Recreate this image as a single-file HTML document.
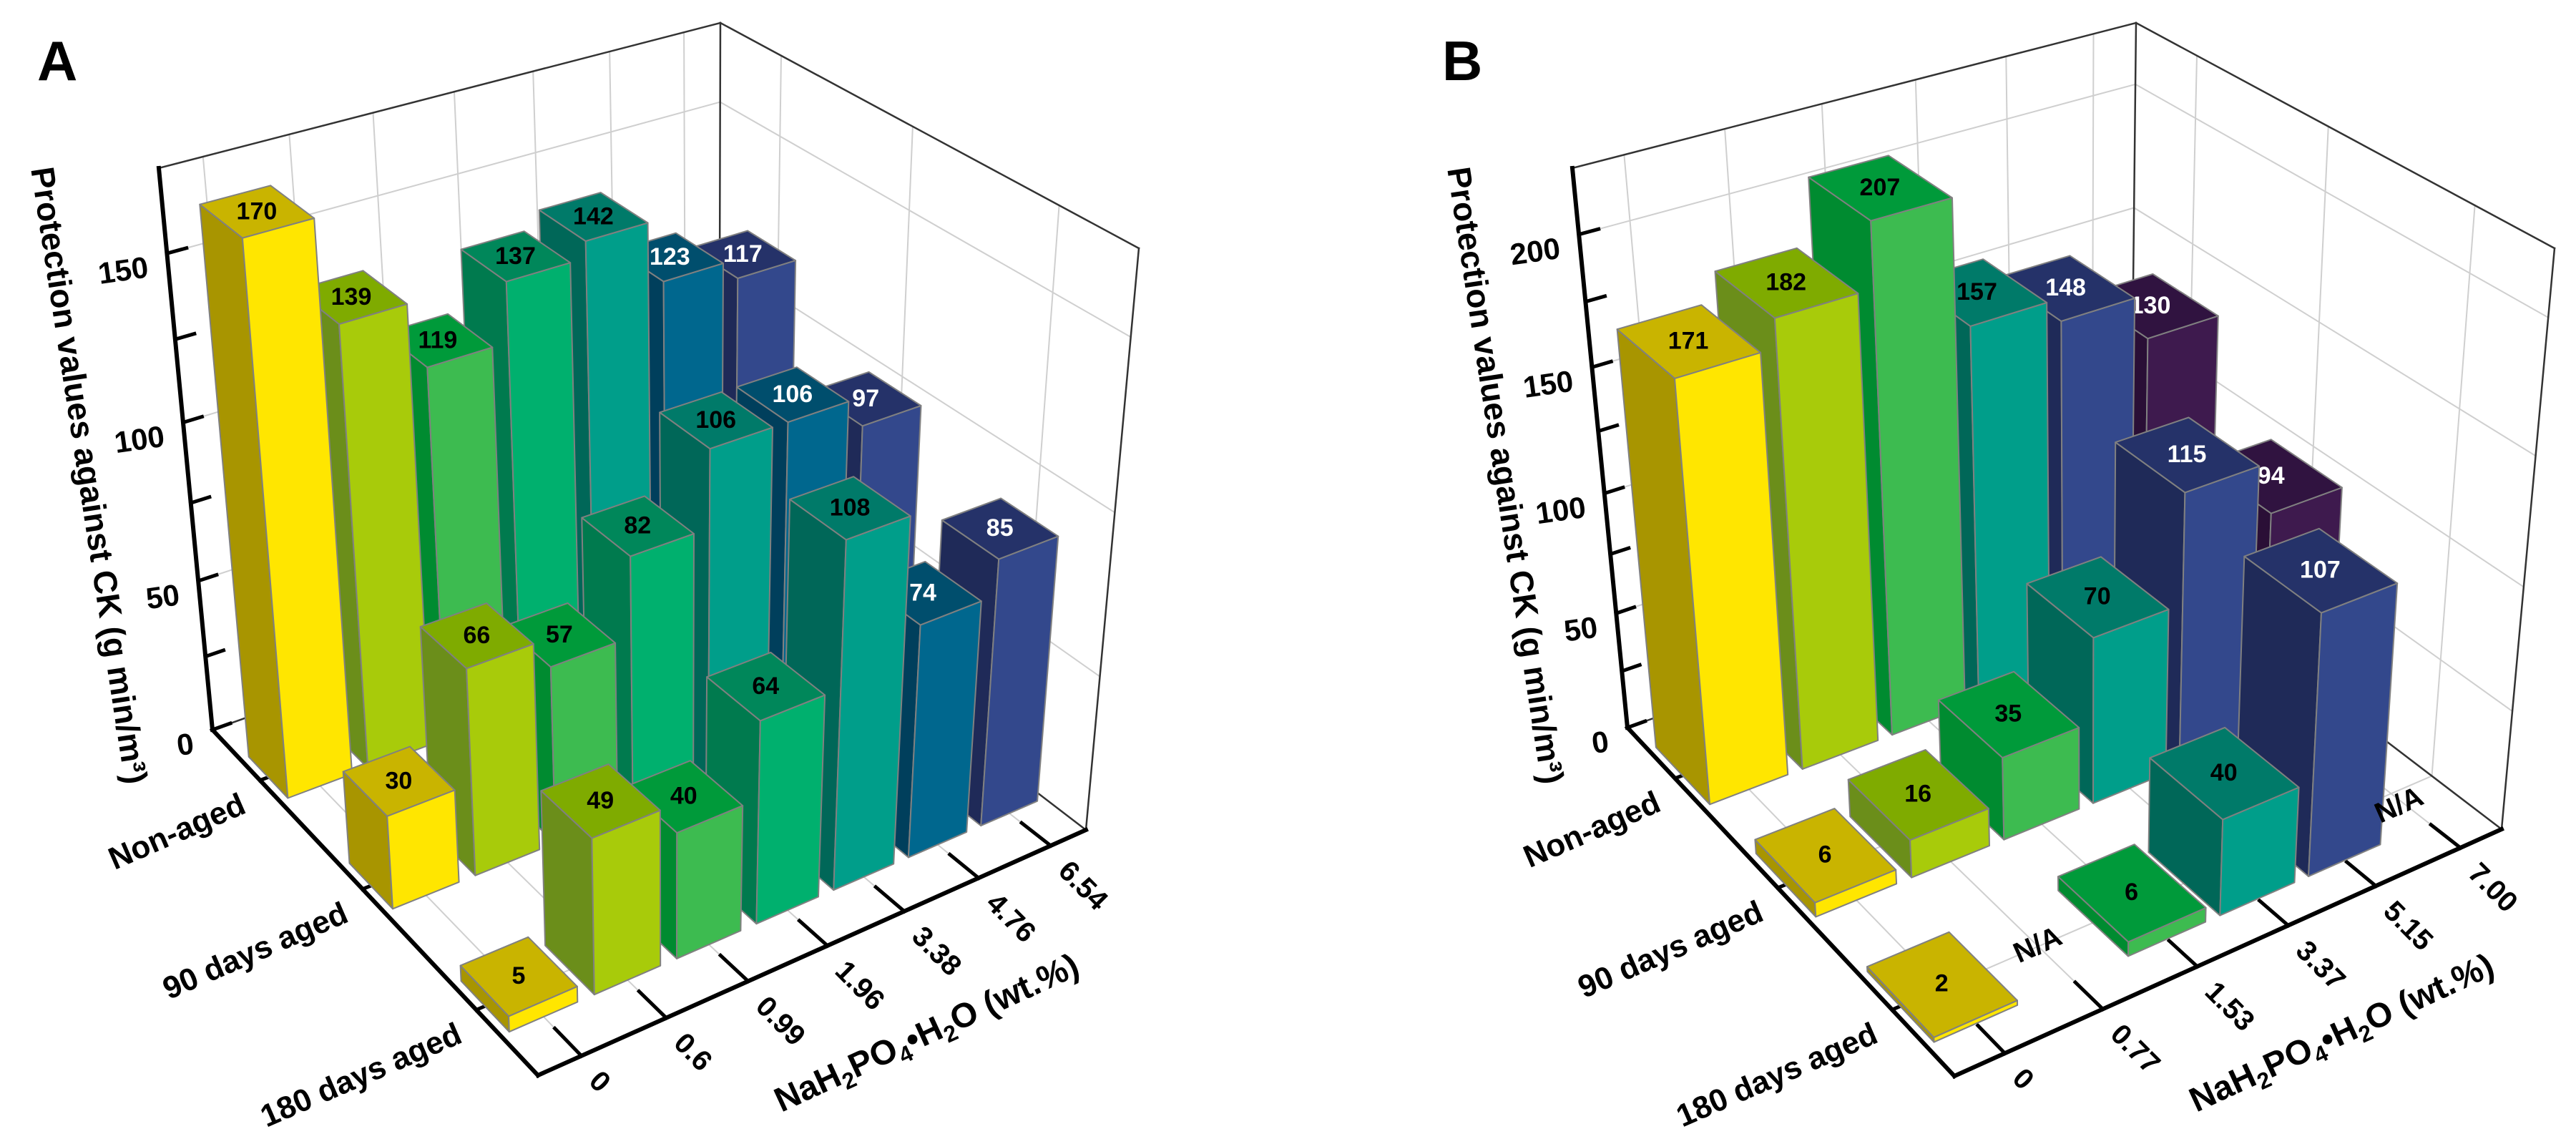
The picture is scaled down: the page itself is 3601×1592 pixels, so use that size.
<!DOCTYPE html>
<html><head><meta charset="utf-8"><title>3D bar charts</title>
<style>
html,body{margin:0;padding:0;background:#fff;}
svg{display:block;font-family:"Liberation Sans",Arial,sans-serif;}
</style></head>
<body>
<svg id="chart" width="3601" height="1592" viewBox="0 0 3601 1592" xmlns="http://www.w3.org/2000/svg">
<rect x="0" y="0" width="3601" height="1592" fill="#fff"/>
<g id="panelA"></g>
<g id="panelB"></g>
<text x="52" y="112" font-size="78" font-weight="bold">A</text>
<text x="2016" y="112" font-size="78" font-weight="bold">B</text>
<text transform="translate(121,665) rotate(81.3)" text-anchor="middle" dominant-baseline="middle" font-size="46" font-weight="bold">Protection values against CK (g min/m³)</text>
<text transform="translate(2101,665) rotate(81.3)" text-anchor="middle" dominant-baseline="middle" font-size="46" font-weight="bold">Protection values against CK (g min/m³)</text>
<text transform="translate(1302,1458) rotate(-24.8)" text-anchor="middle" font-size="48" font-weight="bold">NaH<tspan font-size="32" dy="10">2</tspan><tspan dy="-10">PO</tspan><tspan font-size="32" dy="10">4</tspan><tspan dy="-10">•H</tspan><tspan font-size="32" dy="10">2</tspan><tspan dy="-10">O (wt.%)</tspan></text>
<text transform="translate(3280,1458) rotate(-24.8)" text-anchor="middle" font-size="48" font-weight="bold">NaH<tspan font-size="32" dy="10">2</tspan><tspan dy="-10">PO</tspan><tspan font-size="32" dy="10">4</tspan><tspan dy="-10">•H</tspan><tspan font-size="32" dy="10">2</tspan><tspan dy="-10">O (wt.%)</tspan></text>
</svg>
<script>
// ---------- data ----------
const rowLabels = ['Non-aged', '90 days aged', '180 days aged'];
const catsA = ['0', '0.6', '0.99', '1.96', '3.38', '4.76', '6.54'];
const valsA_nonAged = [170, 139, 119, 137, 142, 123, 117];
const valsA_90days = [30, 66, 57, 82, 106, 106, 97];
const valsA_180days = [5, 49, 40, 64, 108, 74, 85];
const zTicksA = [0, 50, 100, 150];
const catsB = ['0', '0.77', '1.53', '3.37', '5.15', '7.00'];
const valsB_nonAged = [171, 182, 207, 157, 148, 130];
const valsB_90days = [6, 16, 35, 70, 115, 94];
const valsB_180days = [2, null, 6, 40, 107, null];
const zTicksB = [0, 50, 100, 150, 200];

// ---------- styles ----------
const palA = [
 ['#FFE600','#A89500','#C9B400'],['#A8CB0A','#6B8E1A','#7FAB00'],['#3DBB50','#008B30','#009A3A'],
 ['#00B06E','#007A4E','#00875A'],['#009E8A','#006758','#007A69'],['#00678E','#003F5C','#004E6D'],
 ['#33488C','#1F2A58','#253269']];
const palB = [
 ['#FFE600','#A89500','#C9B400'],['#A8CB0A','#6B8E1A','#7FAB00'],['#3DBB50','#008B30','#009A3A'],
 ['#009E8A','#006758','#007A69'],['#33488C','#1F2A58','#253269'],['#3E1A4E','#2A0F36','#301340']];
const whiteA = [false,false,false,false,false,true,true];
const whiteB = [false,false,false,false,true,true];

const NS = 'http://www.w3.org/2000/svg';
function homog(p0,p1,p2,p3){
  const [x0,y0]=p0,[x1,y1]=p1,[x2,y2]=p2,[x3,y3]=p3;
  const sx=x0-x1+x2-x3, sy=y0-y1+y2-y3;
  const dx1=x1-x2,dx2=x3-x2,dy1=y1-y2,dy2=y3-y2;
  const den=dx1*dy2-dx2*dy1;
  const g=(sx*dy2-dx2*sy)/den, h=(dx1*sy-sx*dy1)/den;
  const a=x1-x0+g*x1,b=x3-x0+h*x3,c=x0,d=y1-y0+g*y1,e=y3-y0+h*y3,f=y0;
  return (u,v)=>{const w=g*u+h*v+1;return [(a*u+b*v+c)/w,(d*u+e*v+f)/w];};
}
function makeProj(geo){
  const fl=homog(geo.A,geo.D,geo.C,geo.B), tp=homog(geo.A2,geo.D2,geo.C2,geo.B2);
  return (u,v,z)=>{
    const F=fl(u,v), T=tp(u,v);
    const d=T[1]-F[1], q=geo.vpy-F[1];
    const b=d/(geo.zmax*(q-d)), a=q*b;
    const s=z*a/(1+b*z), t=s/d;
    return [F[0]+(T[0]-F[0])*t, F[1]+(T[1]-F[1])*t];
  };
}
function mk(tag,parent){const e=document.createElementNS(NS,tag);parent.appendChild(e);return e;}
function line(parent,p,q,stroke,w){
  const e=mk('line',parent);
  e.setAttribute('x1',p[0].toFixed(1));e.setAttribute('y1',p[1].toFixed(1));
  e.setAttribute('x2',q[0].toFixed(1));e.setAttribute('y2',q[1].toFixed(1));
  e.setAttribute('stroke',stroke);e.setAttribute('stroke-width',w);e.setAttribute('stroke-linecap','square');
  return e;
}
function poly(parent,pts,fill){
  const e=mk('polygon',parent);
  e.setAttribute('points',pts.map(p=>p[0].toFixed(1)+','+p[1].toFixed(1)).join(' '));
  e.setAttribute('fill',fill);e.setAttribute('stroke','#808080');e.setAttribute('stroke-width','2');
  e.setAttribute('stroke-linejoin','round');
  return e;
}
function txt(parent,str,x,y,size,anchor,rot,fill){
  const e=mk('text',parent);
  e.textContent=str;
  e.setAttribute('transform','translate('+x.toFixed(1)+','+y.toFixed(1)+') rotate('+rot+')');
  e.setAttribute('font-size',size);e.setAttribute('font-weight','bold');
  e.setAttribute('text-anchor',anchor);e.setAttribute('dominant-baseline','middle');
  e.setAttribute('fill',fill||'#000');
  return e;
}

function drawPanel(gid, geo, cats, series, zTicks, pal, whiteCols, bw, bd, prefix){
  const g=document.getElementById(gid);
  const P=makeProj(geo);
  const n=cats.length, nr=series.length, Zm=geo.zmax;
  const xU=i=>(i+0.5)/n;
  const yV=j=>(j+0.5)/nr;
  const grid=mk('g',g);
  
  
  const gc='#cfcfcf';
  for(let i=0;i<n;i++){ line(grid,P(xU(i),0,0),P(xU(i),1,0),gc,2); line(grid,P(xU(i),0,0),P(xU(i),0,Zm),gc,2); }
  for(let j=0;j<nr;j++){ line(grid,P(0,yV(j),0),P(1,yV(j),0),gc,2); line(grid,P(1,yV(j),0),P(1,yV(j),Zm),gc,2); }
  zTicks.forEach(z=>{ if(z>0){ line(grid,P(0,0,z),P(1,0,z),gc,2); line(grid,P(1,0,z),P(1,1,z),gc,2);} });
  const box=mk('g',g);
  
  
  const bc='#333';
  line(box,P(0,0,Zm),P(1,0,Zm),bc,2.5); line(box,P(1,0,Zm),P(1,1,Zm),bc,2.5);
  line(box,P(1,0,0),P(1,0,Zm),bc,2.5); line(box,P(1,1,0),P(1,1,Zm),bc,2.5);
  line(box,P(0,0,0),P(1,0,0),bc,2.5); line(box,P(1,0,0),P(1,1,0),bc,2.5);
  const ax=mk('g',g);
  
  
  const za=line(ax,P(0,0,0),P(0,0,Zm),'#000',6);
  
  
  const ra=line(ax,P(0,0,0),P(0,1,0),'#000',6);
  
  
  const xa=line(ax,P(0,1,0),P(1,1,0),'#000',6);
  
  
  const step=zTicks[1]-zTicks[0];
  for(let z=0; z<=Zm+0.01; z+=step/2){ line(ax,P(0,0,z),P(0.032,0,z),'#000',5); }
  zTicks.forEach(z=>{
    const p=P(0,0,z);
    const t=txt(ax,String(z),p[0]-26,p[1]+22,42,'end',-8);
    
    
  });
  rowLabels.forEach((lab,j)=>{
    const p=P(0,yV(j),0);
    line(ax,p,P(0.03,yV(j),0),'#000',5);
    const t=txt(ax,lab,p[0]-22,p[1]+34,44,'end',-23.5);
    
    
  });
  cats.forEach((c,i)=>{
    const p=P(xU(i),1,0);
    line(ax,p,P(xU(i),0.93,0),'#000',5);
    const t=txt(ax,c,p[0]+16,p[1]+30,40,'start',45);
    
    
  });
  const bars=mk('g',g);
  
  
  const naList=[];
  for(let j=0;j<nr;j++){
    for(let i=n-1;i>=0;i--){
      const val=series[j][i];
      const uc=xU(i), vc=yV(j);
      if(val===null||val===undefined){ naList.push([uc,vc,i]); continue; }
      const u0=uc-bw/2/n,u1=uc+bw/2/n,v0=vc-bd/2/nr,v1=vc+bd/2/nr;
      const bg=mk('g',bars);
      
      
      poly(bg,[P(u0,v0,0),P(u0,v1,0),P(u0,v1,val),P(u0,v0,val)],pal[i][1]);
      poly(bg,[P(u0,v1,0),P(u1,v1,0),P(u1,v1,val),P(u0,v1,val)],pal[i][0]);
      poly(bg,[P(u0,v0,val),P(u1,v0,val),P(u1,v1,val),P(u0,v1,val)],pal[i][2]);
      const c=P(uc,vc,val);
      const t=txt(bg,String(val),c[0],c[1]+2,34,'middle',0,whiteCols[i]?'#fff':'#000');
      
      
    }
  }
  naList.forEach(([uc,vc,i])=>{
    const p=P(uc,vc,0);
    const dx=(i===n-1)?12:0, dy=(i===n-1)?18:0;
    const t=txt(bars,'N/A',p[0]+dx,p[1]+dy,40,'middle',-24);
    
    
  });
}

drawPanel('panelA',{A:[297,1020],D:[1005,767],C:[1518,1160],B:[752,1503],
  A2:[222,235],D2:[1007,32],C2:[1592,347],B2:[728,632],zmax:174,vpy:7635},
  catsA,[valsA_nonAged,valsA_90days,valsA_180days],zTicksA,palA,whiteA,0.8,0.4,'panel-a');
drawPanel('panelB',{A:[2275,1017],D:[2978,763],C:[3497,1159],B:[2732,1504],
  A2:[2198,235],D2:[2986,32],C2:[3571,347],B2:[2704,633],zmax:224,vpy:7531},
  catsB,[valsB_nonAged,valsB_90days,valsB_180days],zTicksB,palB,whiteB,0.84,0.55,'panel-b');
</script>
</body></html>
